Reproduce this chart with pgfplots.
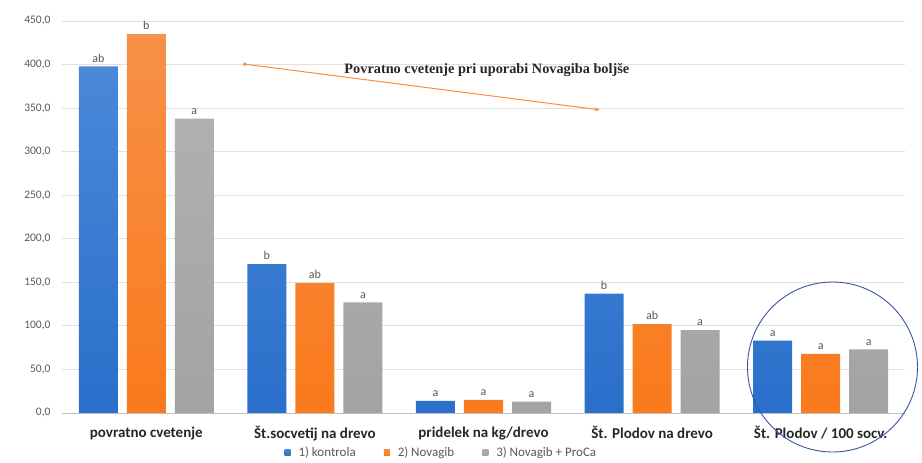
\documentclass[border=0pt]{standalone}
\usepackage{pgfplots}
\pgfplotsset{compat=1.18}
\usepackage{fontspec}
\setmainfont{Carlito}
\newfontfamily\timesfont{Liberation Serif}
\usetikzlibrary{arrows.meta}

\definecolor{cblue}{HTML}{2A6FCB}
\definecolor{cbluetop}{HTML}{4A88D8}
\definecolor{corange}{HTML}{FA7A1C}
\definecolor{corangetop}{HTML}{F79048}
\definecolor{cgray}{HTML}{A3A3A3}
\definecolor{cgraytop}{HTML}{B0B0B0}
\definecolor{ticktext}{HTML}{595959}
\definecolor{circ}{HTML}{3A55A0}

\begin{document}
\begin{tikzpicture}[x=1pt,y=1pt]
\useasboundingbox (-62,-50) rectangle (860,413);
\begin{axis}[
    at={(0,0)}, anchor=south west,
    scale only axis,
    width=843pt, height=392pt,
    ybar=9pt, bar width=39pt,
    xmin=-0.5, xmax=4.5,
    ymin=0, ymax=450,
    ytick distance=50,
    xtick={0,1,2,3,4},
    xticklabels={povratno cvetenje, Št.socvetij na drevo, pridelek na kg/drevo, Št. Plodov na drevo, Št. Plodov / 100 socv.},
    xticklabel style={font=\fontsize{15}{17}\selectfont\bfseries, text=black!85, yshift=-10pt},
    yticklabel style={font=\fontsize{11.5}{13}\selectfont, text=ticktext, xshift=-8pt},
    /pgf/number format/.cd, fixed, fixed zerofill, precision=1, use comma, assume math mode=true,
    /pgfplots/.cd,
    axis line style={draw=none},
    major tick length=0pt,
    ymajorgrids, grid style={black!12, line width=0.8pt},
    extra y ticks={0}, extra y tick labels={},
    extra y tick style={grid style={black!25, line width=0.8pt}},
    nodes near coords,
    point meta=explicit symbolic,
    every node near coord/.append style={font=\fontsize{12}{14}\selectfont, text=ticktext, inner sep=4pt},
    legend columns=3,
    legend style={at={(0.450,-0.1)}, anchor=center, draw=none, fill=none,
        font=\fontsize{13}{15}\selectfont, text=ticktext,
        /tikz/every odd column/.append style={column sep=6pt},
        /tikz/every even column/.append style={column sep=26pt}},
    legend image code/.code={\path[#1,draw=none] (0pt,-3pt) rectangle (6pt,3pt);},
    clip=false,
]
\addplot[draw=none, top color=cbluetop, bottom color=cblue] coordinates {
    (0,398) [ab] (1,171) [b] (2,14) [a] (3,137) [b] (4,83) [a]};
\addplot[draw=none, top color=corangetop, bottom color=corange] coordinates {
    (0,435) [b] (1,149) [ab] (2,15) [a] (3,102) [ab] (4,68) [a]};
\addplot[draw=none, top color=cgraytop, bottom color=cgray] coordinates {
    (0,338) [a] (1,127) [a] (2,13) [a] (3,95) [a] (4,73) [a]};
\legend{1) kontrola, 2) Novagib, 3) Novagib + ProCa}

\draw[color=corange!85, line width=1pt, {Stealth[length=5pt,width=4pt]}-{Circle[length=3.5pt]}]
    (axis cs:2.69,348) -- (axis cs:0.574,400.7);
\node[font=\timesfont\fontsize{14.3}{16}\selectfont\bfseries, text=black!85]
    at (axis cs:2.02,394) {Povratno cvetenje pri uporabi Novagiba boljše};
\draw[circ, line width=0.9pt] (axis cs:4.07,52.8) circle[radius=85pt];
\end{axis}
\end{tikzpicture}
\end{document}
